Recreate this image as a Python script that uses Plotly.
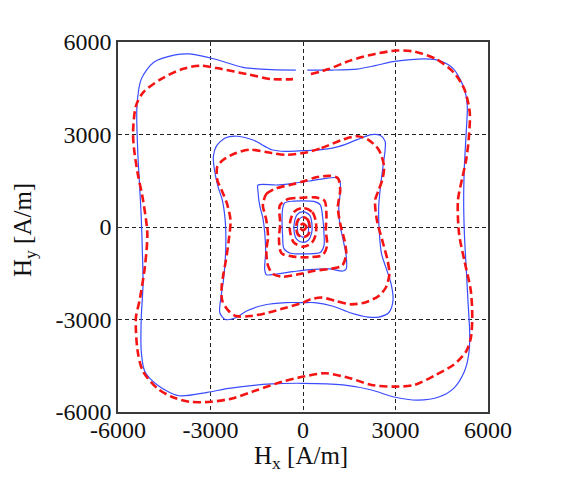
import plotly.graph_objects as go

# ---------------- data (A/m) ----------------
tick_vals = [-6000, -3000, 0, 3000, 6000]
tick_text = ["-6000", "-3000", "0", "3000", "6000"]

# largest loops
blue1_x = [139, 950, 1760, 2339, 2918, 3497, 3960, 4424, 4887, 5234, 5327, 5292, 5234, 5211, 5234, 5292, 5350, 5408, 5373, 5234, 4887, 4424, 3729, 2918, 2223, 1297, 0, -1019, -2409, -3103, -4030, -4725, -5130, -5246, -5246, -5188, -5211, -5246, -5304, -5362, -5385, -5246, -4840, -4146, -3682, -2872, -1945, -1019, -232]
blue1_y = [5090, 5090, 5123, 5232, 5363, 5428, 5450, 5396, 5123, 4469, 3924, 3052, 1962, 872, -218, -1308, -2398, -3488, -4142, -4687, -5232, -5505, -5614, -5505, -5287, -5123, -5069, -5090, -5232, -5363, -5472, -5123, -4687, -4033, -2943, -1853, -763, 327, 1417, 2507, 3924, 4796, 5341, 5581, 5614, 5450, 5178, 5101, 5090]

red1_x = [255, 834, 1529, 2339, 3034, 3613, 4308, 4887, 5234, 5408, 5373, 5292, 5176, 5026, 5061, 5234, 5443, 5489, 5443, 5292, 4887, 4308, 3613, 2918, 2223, 1529, 718, 23, -672, -1482, -2293, -2988, -3682, -4261, -4725, -5188, -5362, -5419, -5304, -5130, -5049, -5188, -5362, -5477, -5512, -5419, -5188, -4609, -3914, -3335, -2640, -1830, -1019, -324]
red1_y = [4960, 5123, 5396, 5614, 5723, 5690, 5450, 5014, 4469, 3706, 2834, 2180, 1635, 872, -218, -1090, -2071, -2943, -3597, -4033, -4469, -4796, -5123, -5178, -5123, -4905, -4742, -4851, -5014, -5287, -5559, -5668, -5668, -5505, -5232, -4687, -4033, -2943, -2398, -1308, -218, 872, 1744, 2507, 3052, 3924, 4360, 4796, 5123, 5232, 5123, 4960, 4796, 4796]

# second loops
blue2_x = [0, 602, 1181, 1760, 2223, 2513, 2663, 2663, 2594, 2513, 2455, 2478, 2548, 2687, 2860, 2918, 2779, 2455, 2108, 1529, 950, 371, 0, -556, -1251, -1830, -2177, -2524, -2698, -2663, -2582, -2524, -2501, -2524, -2617, -2756, -2872, -2907, -2814, -2524, -2119, -1598, -1019, -556, 0]
blue2_y = [2474, 2507, 2616, 2834, 2998, 2965, 2780, 2507, 1962, 1308, 654, -218, -872, -1308, -1853, -2398, -2780, -2921, -2921, -2780, -2562, -2453, -2453, -2453, -2529, -2725, -2943, -2998, -2780, -2289, -1744, -1090, -436, 218, 872, 1308, 1853, 2289, 2616, 2889, 2943, 2812, 2507, 2453, 2474]

red2_x = [0, 602, 1297, 1760, 2108, 2455, 2629, 2571, 2455, 2339, 2397, 2571, 2744, 2802, 2687, 2455, 1992, 1529, 1065, 602, 255, 0, -556, -1135, -1714, -2177, -2409, -2617, -2640, -2582, -2501, -2409, -2351, -2467, -2640, -2779, -2779, -2582, -2177, -1714, -1019, -556, 0]
red2_y = [2398, 2562, 2834, 2943, 2834, 2507, 1962, 1526, 1199, 872, 218, -436, -1090, -1526, -1962, -2235, -2453, -2507, -2398, -2289, -2344, -2453, -2616, -2780, -2889, -2889, -2725, -2398, -1962, -1526, -1090, -436, 218, 763, 1199, 1526, 1962, 2180, 2398, 2507, 2398, 2344, 2398]

# third loops
blue3_x = [-1458, -866, -326, 214, 645, 1077, 1185, 1217, 1163, 1185, 1293, 1400, 1400, 1293, 861, 214, -326, -866, -1190, -1244, -1211, -1244, -1298, -1406, -1458, -1458]
blue3_y = [1362, 1362, 1417, 1493, 1558, 1602, 1527, 1200, 710, 165, -379, -925, -1361, -1427, -1361, -1383, -1449, -1525, -1547, -1361, -816, -163, 273, 709, 1144, 1362]

red3_x = [-1297, -1189, -865, -433, -2, 429, 861, 1131, 1206, 1131, 1206, 1347, 1400, 1271, 861, 375, -110, -650, -974, -1135, -1189, -1135, -1189, -1297, -1297]
red3_y = [763, 1069, 1254, 1363, 1472, 1614, 1657, 1581, 1200, 654, 110, -436, -872, -1253, -1362, -1416, -1525, -1613, -1526, -1254, -763, -327, 218, 654, 763]

# fourth loops
blue4_x = [-600, -300, 0, 350, 560, 640, 680, 680, 560, 100, -400, -620, -660, -680, -660, -600]
blue4_y = [780, 840, 850, 830, 720, 300, -200, -600, -830, -870, -850, -700, -300, 200, 600, 780]

red4_x = [-750, -500, 0, 400, 700, 760, 740, 780, 650, 200, -300, -700, -780, -740, -750]
red4_y = [700, 900, 950, 960, 850, 400, -100, -600, -900, -980, -960, -850, -400, 100, 700]

# inner loops
blue5_x = [0, 220, 290, 280, 180, 0, -200, -290, -280, -190, 0]
blue5_y = [500, 380, 100, -200, -420, -500, -400, -150, 150, 400, 500]

red5_x = [0, 300, 420, 410, 280, 0, -300, -420, -410, -280, 0]
red5_y = [620, 480, 150, -250, -520, -640, -500, -150, 200, 500, 620]

blue6_x = [0, 140, 180, 150, 0, -150, -180, -140, 0]
blue6_y = [330, 230, 0, -240, -330, -230, 0, 230, 330]

red6_x = [0, 160, 220, 170, 0, -170, -220, -160, 0]
red6_y = [320, 230, 0, -250, -330, -240, 0, 230, 320]

red7_x = [0, 110, 0, -110, 0]
red7_y = [110, 0, -110, 0, 110]

BLUE = "#3a4cff"
RED = "#f41414"

blue_loops = [(blue1_x, blue1_y), (blue2_x, blue2_y), (blue3_x, blue3_y),
              (blue4_x, blue4_y), (blue5_x, blue5_y), (blue6_x, blue6_y)]
red_loops = [(red1_x, red1_y), (red2_x, red2_y), (red3_x, red3_y),
             (red4_x, red4_y), (red5_x, red5_y), (red6_x, red6_y), (red7_x, red7_y)]

fig = go.Figure()
for bx, by in blue_loops:
    fig.add_trace(go.Scatter(x=bx, y=by, mode="lines",
                             line=dict(color=BLUE, width=1.2, shape="spline", smoothing=0.8),
                             hoverinfo="skip", showlegend=False))
for rx, ry in red_loops:
    fig.add_trace(go.Scatter(x=rx, y=ry, mode="lines",
                             line=dict(color=RED, width=2.6, dash="8px,4px", shape="spline", smoothing=0.8),
                             hoverinfo="skip", showlegend=False))

# page body adds an 8px margin, so the figure is 8px smaller and shifted
OFF = 8
W, H = 561 - OFF, 477 - OFF
L, T = 118 - OFF, 42 - OFF
PW = PH = 370
R = W - L - PW
B = H - T - PH

def px_to_paper_x(px):
    return (px - OFF - L) / PW

def px_to_paper_y(py):
    return (H - B - (py - OFF)) / PH

font_family = "Liberation Serif"
axis_common = dict(
    range=[-6000, 6000], tickvals=tick_vals, ticktext=tick_text,
    showgrid=True, gridcolor="#222222", gridwidth=1, griddash="4px,3px",
    zeroline=False, showline=True, linecolor="#3a3a3a", linewidth=1.5, mirror=True,
    ticks="", tickfont=dict(family=font_family, size=24, color="#111111"),
    fixedrange=True,
)

fig.update_layout(
    width=W, height=H,
    margin=dict(l=L, r=R, t=T, b=B),
    font=dict(family=font_family),
    paper_bgcolor="white",
    plot_bgcolor="white",
    xaxis=dict(axis_common, ticklabelstandoff=-5),
    yaxis=axis_common,
    annotations=[
        dict(text="H<sub>x</sub> [A/m]", xref="paper", yref="paper",
             x=px_to_paper_x(301), y=px_to_paper_y(457), xanchor="center", yanchor="middle",
             showarrow=False, font=dict(family=font_family, size=25, color="#111111")),
        dict(text="H<sub>y</sub> [A/m]", xref="paper", yref="paper", textangle=-90,
             x=px_to_paper_x(25), y=px_to_paper_y(230), xanchor="center", yanchor="middle",
             showarrow=False, font=dict(family=font_family, size=25, color="#111111")),
    ],
)

fig.write_html("out.html")
